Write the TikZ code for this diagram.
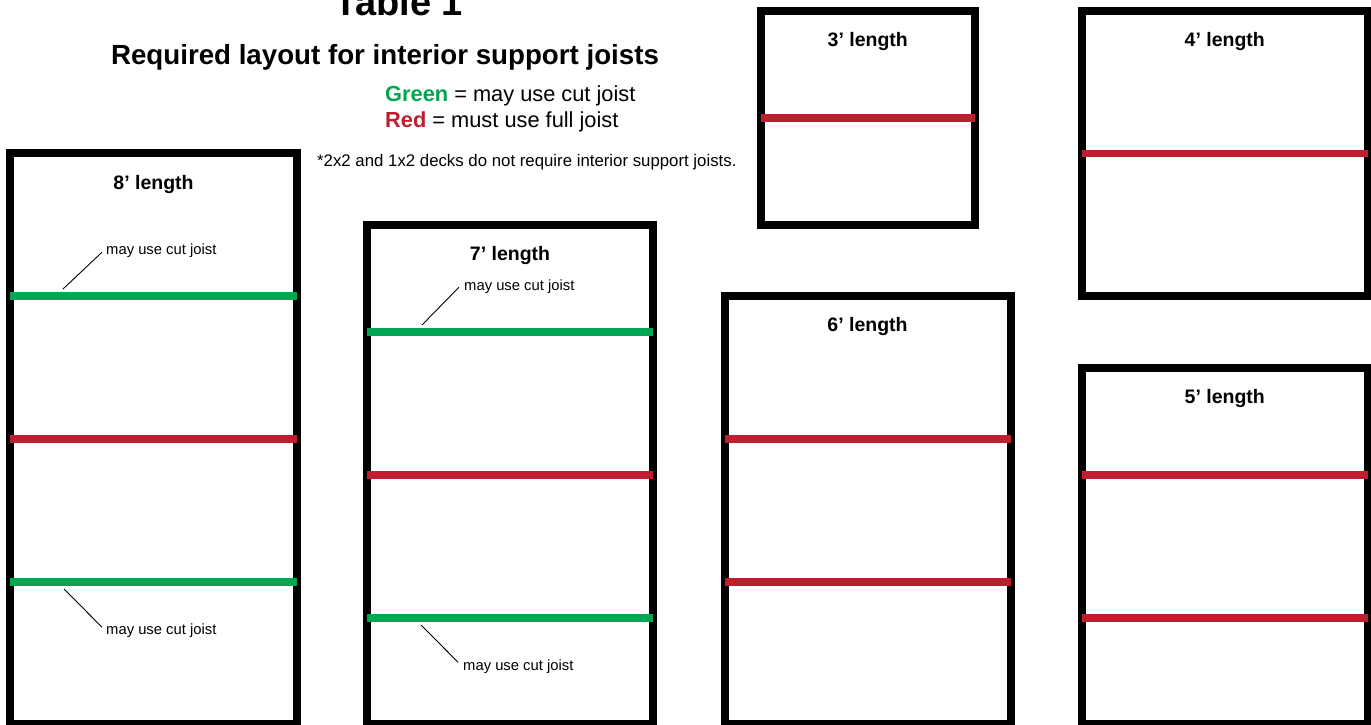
\documentclass[tikz,border=0pt]{standalone}
\usepackage{fontspec}
\setmainfont{Liberation Sans}
\definecolor{joistgreen}{HTML}{00A651}
\definecolor{joistred}{HTML}{BE1E2D}
\tikzset{
  deck/.style={draw=black, line width=8pt},
  cutjoist/.style={draw=joistgreen, line width=7.5pt},
  fulljoist/.style={draw=joistred, line width=7.5pt},
  decklabel/.style={font=\bfseries\fontsize{19.5}{22}\selectfont, anchor=base, inner sep=0pt},
  notelabel/.style={font=\fontsize{14.8}{17}\selectfont, anchor=base west, inner sep=0pt},
  leader/.style={draw=black, line width=0.9pt},
}
\begin{document}
\begin{tikzpicture}[x=1pt,y=-1pt]
\useasboundingbox (0,0) rectangle (1371,724);
\clip (0,0) rectangle (1371,724);
\fill[white] (0,0) rectangle (1371,724);

% titles and legend
\node[font=\bfseries\fontsize{38}{40}\selectfont, anchor=base, inner sep=0pt] (title) at (399,15) {Table 1};
\node[font=\bfseries\fontsize{27.7}{30}\selectfont, anchor=base, inner sep=0pt] (subtitle) at (385,64) {Required layout for interior support joists};
\node[font=\fontsize{21.8}{24}\selectfont, anchor=base west, inner sep=0pt] (leggreen) at (385,101) {\textcolor{joistgreen}{\bfseries Green} = may use cut joist};
\node[font=\fontsize{21.8}{24}\selectfont, anchor=base west, inner sep=0pt] (legred) at (385,127) {\textcolor{joistred}{\bfseries Red} = must use full joist};
\node[font=\fontsize{16.8}{19}\selectfont, anchor=base west, inner sep=0pt] (footnote) at (317,166) {*2x2 and 1x2 decks do not require interior support joists.};

% deck frames
\draw[deck] (10,153) rectangle (297,724);
\draw[deck] (367,225) rectangle (653,724);
\draw[deck] (724.5,296) rectangle (1010.5,724);
\draw[deck] (760.5,11) rectangle (975,225);
\draw[deck] (1082,11) rectangle (1367.5,296);
\draw[deck] (1082,368) rectangle (1367.5,724);

% joists
\draw[cutjoist]  (10,296) -- (297,296);
\draw[fulljoist] (10,439) -- (297,439);
\draw[cutjoist]  (10,582) -- (297,582);

\draw[cutjoist]  (367,332) -- (653,332);
\draw[fulljoist] (367,475) -- (653,475);
\draw[cutjoist]  (367,618) -- (653,618);

\draw[fulljoist] (724.5,439) -- (1010.5,439);
\draw[fulljoist] (724.5,582) -- (1010.5,582);

\draw[fulljoist] (760.5,118) -- (975,118);

\draw[fulljoist] (1082,153.5) -- (1367.5,153.5);

\draw[fulljoist] (1082,475) -- (1367.5,475);
\draw[fulljoist] (1082,618) -- (1367.5,618);

% deck labels
\node[decklabel] (lab8) at (153.5,189) {8’ length};
\node[decklabel] (lab7) at (510,260) {7’ length};
\node[decklabel] (lab6) at (867.5,331) {6’ length};
\node[decklabel] (lab5) at (1224.75,403) {5’ length};
\node[decklabel] (lab4) at (1224.75,46) {4’ length};
\node[decklabel] (lab3) at (867.75,46) {3’ length};

% cut joist notes with leaders
\node[notelabel] (n8a) at (106,254) {may use cut joist};
\node[notelabel] (n8b) at (106,634) {may use cut joist};
\node[notelabel] (n7a) at (464,290) {may use cut joist};
\node[notelabel] (n7b) at (463,670) {may use cut joist};

\coordinate (p8a) at (63,289);
\coordinate (p8b) at (64,589);
\coordinate (p7a) at (422,325);
\coordinate (p7b) at (421,625);

\draw[leader] (p8a) -- ([shift={(-4pt,-2pt)}]n8a.west);
\draw[leader] (p8b) -- ([shift={(-4pt,3pt)}]n8b.west);
\draw[leader] (p7a) -- ([shift={(-5pt,-1pt)}]n7a.west);
\draw[leader] (p7b) -- ([shift={(-5pt,4pt)}]n7b.west);
\end{tikzpicture}
\end{document}
